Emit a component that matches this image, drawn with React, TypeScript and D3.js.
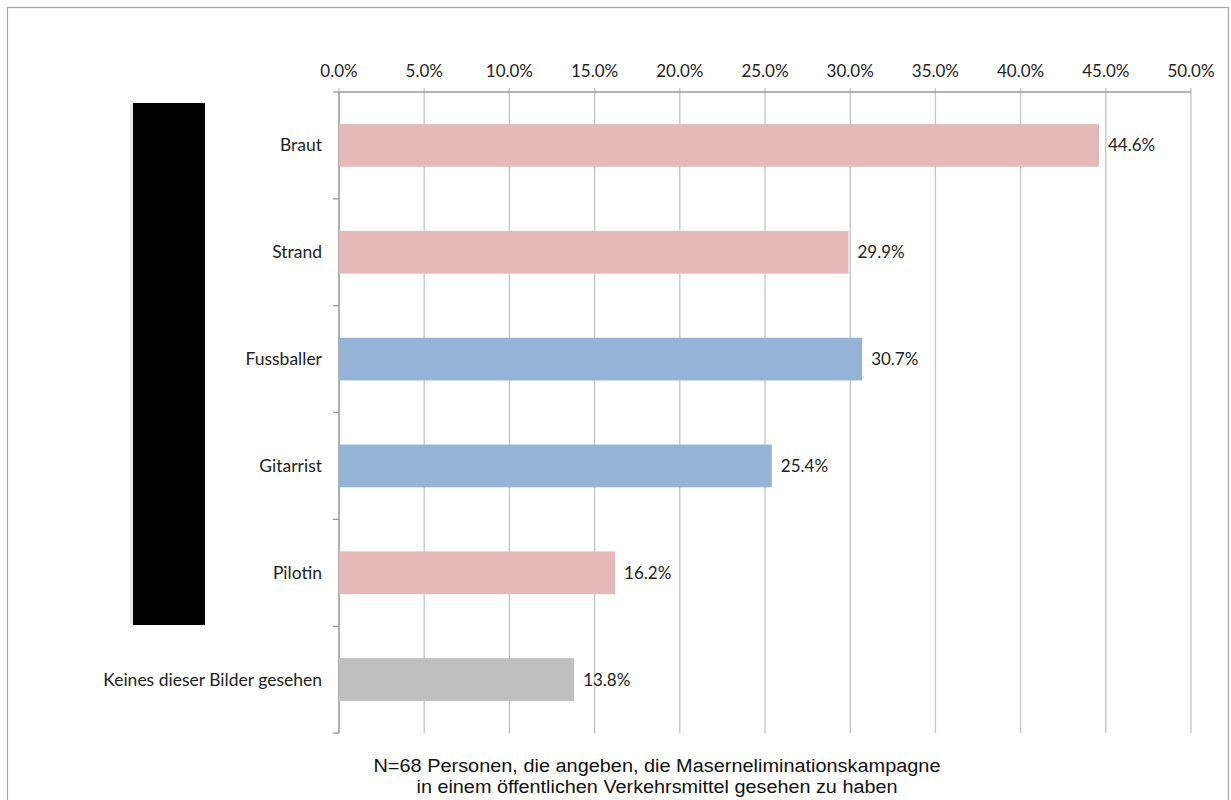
import React from "react";
import * as d3 from "d3";

const categories = ["Braut", "Strand", "Fussballer", "Gitarrist", "Pilotin", "Keines dieser Bilder gesehen"];
const values = [44.6, 29.9, 30.7, 25.4, 16.2, 13.8];
const barColors = ["#E6B9B8", "#E6B9B8", "#95B3D7", "#95B3D7", "#E6B9B8", "#BFBFBF"];
const tickValues = [0, 5, 10, 15, 20, 25, 30, 35, 40, 45, 50];
const captionLines = [
  "N=68 Personen, die angeben, die Maserneliminationskampagne",
  "in einem öffentlichen Verkehrsmittel gesehen zu haben",
];
const captionWidths = [567, 481];

export default function App() {
  const W = 1231, H = 800;
  const left = 339, right = 1191, top = 92, bottom = 733;
  const x = d3.scaleLinear().domain([0, 50]).range([left, right]);
  const y = d3.scaleBand<string>().domain(categories).range([top, bottom]).paddingInner(0.6).paddingOuter(0.3);
  const yb = d3.scaleBand<string>().domain(categories).range([top, bottom]);
  const font = "Lato, 'Open Sans', sans-serif";
  const fmt = (v: number) => v.toFixed(1) + "%";
  return (
    <svg width={W} height={H} style={{ position: "absolute", left: 0, top: 0, background: "#fff" }}>
      <rect x={7.5} y={7.5} width={1221} height={800} fill="#fff" stroke="#a6a6a6" strokeWidth={1.2} />
      {/* redacted block */}
      <rect x={130} y={104} width={3} height={520} fill="#ebe7e3" />
      <rect x={133} y={103} width={72} height={522} fill="#000" />
      {/* gridlines */}
      {tickValues.map((t) => (
        <line key={"g" + t} x1={x(t)} x2={x(t)} y1={top - 4} y2={bottom} stroke="#c4c4c4" strokeWidth={1.3} />
      ))}
      {/* top axis line */}
      <line x1={left} x2={right} y1={top} y2={top} stroke="#9a9a9a" strokeWidth={1.3} />
      {/* left axis line */}
      <line x1={left} x2={left} y1={top} y2={bottom} stroke="#9a9a9a" strokeWidth={1.3} />
      {categories.map((c, i) => (
        <line key={"t" + i} x1={left - 6} x2={left} y1={(yb(c) as number) + yb.bandwidth()} y2={(yb(c) as number) + yb.bandwidth()} stroke="#9a9a9a" strokeWidth={1.3} />
      ))}
      <line x1={left - 6} x2={left} y1={top} y2={top} stroke="#9a9a9a" strokeWidth={1.3} />
      {/* tick labels */}
      {tickValues.map((t) => (
        <text key={"l" + t} x={x(t)} y={77} textAnchor="middle" fontFamily={font} fontSize={17} fill="#222">
          {fmt(t)}
        </text>
      ))}
      {/* bars */}
      {categories.map((c, i) => (
        <g key={"b" + i}>
          <rect x={x(0)} y={y(c)} width={x(values[i]) - x(0)} height={y.bandwidth()} fill={barColors[i]} />
          <text x={x(values[i]) + 9} y={(y(c) as number) + y.bandwidth() / 2 + 6} fontFamily={font} fontSize={17} fill="#222">
            {fmt(values[i])}
          </text>
          <text x={322} y={(y(c) as number) + y.bandwidth() / 2 + 6} textAnchor="end" fontFamily={font} fontSize={17.5} fill="#222">
            {c}
          </text>
        </g>
      ))}
      {/* caption */}
      {captionLines.map((l, i) => (
        <text key={"c" + i} x={657} y={772 + i * 21} textAnchor="middle" textLength={captionWidths[i]} lengthAdjust="spacingAndGlyphs" fontFamily="'Liberation Sans', Arial, sans-serif" fontSize={18} fill="#111">
          {l}
        </text>
      ))}
    </svg>
  );
}
